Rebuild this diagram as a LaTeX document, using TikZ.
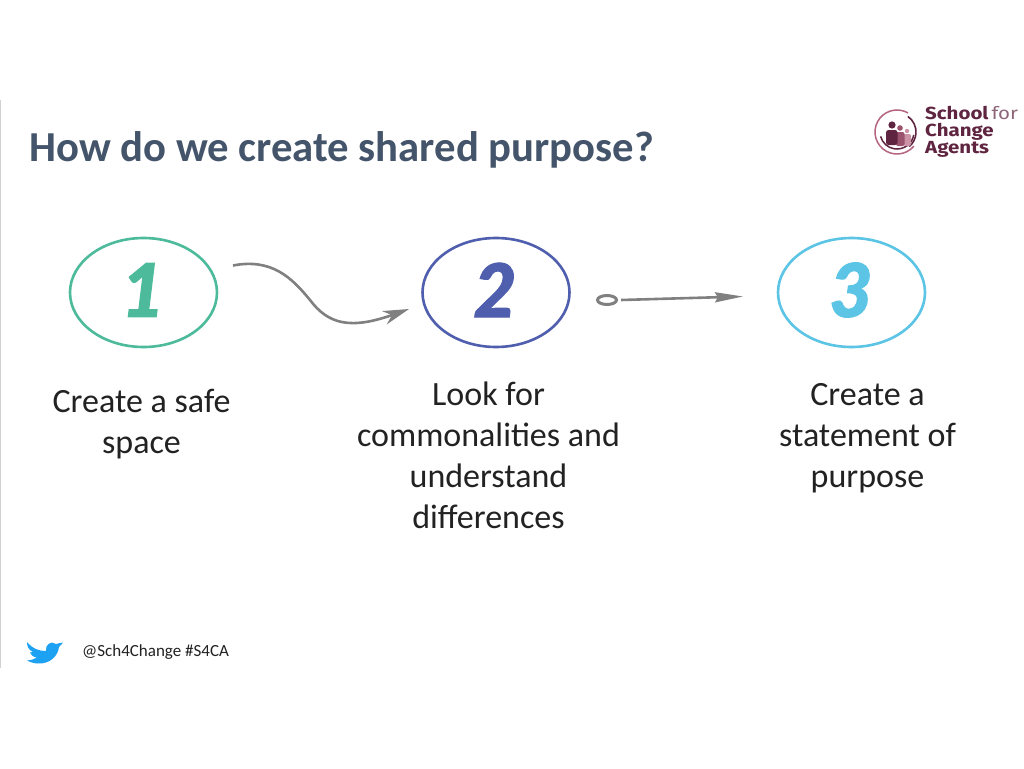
\documentclass[tikz,border=0pt]{standalone}
\usepackage{fontspec}
\setmainfont{Carlito}
\newfontfamily\numfont[FakeBold=1.5]{Lato Black Italic}
\newfontfamily\logofont[FakeStretch=1.17]{Fira Sans}
\usetikzlibrary{arrows.meta,shapes.geometric}
\normallineskiplimit=-100pt
\lineskiplimit=-100pt
\definecolor{titlecol}{HTML}{44546A}
\definecolor{bodycol}{HTML}{222222}
\definecolor{tealc}{HTML}{4DBB9B}
\definecolor{bluec}{HTML}{4F5FAE}
\definecolor{cyanc}{HTML}{5CC4E4}
\definecolor{arrowc}{HTML}{808080}
\definecolor{maroon1}{HTML}{5E2440}
\definecolor{maroon2}{HTML}{B5657F}
\definecolor{birdc}{HTML}{1DA1F2}
\tikzset{
 x=1pt,y=-1pt,
 ring/.style={ellipse,draw=#1,line width=2.6pt,minimum width=147pt,minimum height=109pt,inner sep=0pt},
 numeral/.style={text=#1,font=\numfont\fontsize{74}{74}\selectfont,inner sep=0pt},
 bodytext/.style={align=center,text=bodycol,font=\fontsize{34}{41}\selectfont,inner sep=0pt},
 conn/.style={draw=arrowc,line width=2.6pt,-{Stealth[length=26pt,width=14pt,inset=8pt]}},
 connb/.style={draw=arrowc,line width=2.6pt,-{Stealth[length=28pt,width=10pt,inset=3pt]}},
 logotext/.style={anchor=west,align=left,text=maroon1,inner sep=0pt,font=\logofont\bfseries\fontsize{17.5}{17}\selectfont},
}
\begin{document}
\begin{tikzpicture}
\useasboundingbox (0,0) rectangle (1024,768);
\fill[white] (0,0) rectangle (1024,768);
\fill[black!18] (0,100) rectangle (1.2,668);
\node[anchor=west,inner sep=0pt,text=titlecol,font=\bfseries\fontsize{42.7}{43}\selectfont] (title) at (29,150) {How do we create shared purpose?};

\node[ring=tealc] (c1) at (143.5,292.5) {};
\node[ring=bluec] (c2) at (496,292.5) {};
\node[ring=cyanc] (c3) at (851.5,292.5) {};
\node[numeral=tealc] (n1) at (143,290) {1};
\node[numeral=bluec] (n2) at (495,290) {2};
\node[numeral=cyanc] (n3) at (851,290) {3};

\coordinate (a1) at (233,265.5);
\coordinate (a2) at (409,309);
\draw[conn] (a1) .. controls (272,258) and (292,278) .. (310,300)
   .. controls (328,324) and (350,330) .. (a2);
\node[ellipse,draw=arrowc,line width=3pt,minimum width=19pt,minimum height=9pt,inner sep=0pt] (o) at (607,300) {};
\coordinate (a3) at (743,296.5);
\draw[connb] (o.east)++(3,0) coordinate (a4) (a4) -- (a3);

\node[bodytext] (t1) at (141.5,424) {Create a safe\\space};
\node[bodytext] (t2) at (488.5,455) {Look for\\commonalities and\\understand\\differences};
\node[bodytext] (t3) at (867.5,438) {Create a\\statement of\\purpose};

% logo
\coordinate (lc) at (897,132);
\draw[maroon2,line width=1.5pt] (lc) ++(40:22) arc[start angle=40,end angle=300,radius=22];
\draw[maroon1,line width=1.6pt] (lc) ++(-55:19) arc[start angle=-55,end angle=50,radius=19];
\draw[maroon1,line width=1.5pt] (lc) ++(10:17) arc[start angle=10,end angle=165,radius=17];
\fill[maroon2!70] (907,131) circle[radius=2.2];
\fill[maroon2!70,rounded corners=2pt] (903.5,134) rectangle (911,146);
\fill[maroon2!70!maroon1] (900,128) circle[radius=2.8];
\fill[maroon2!70!maroon1,rounded corners=2pt] (896,132) rectangle (904.5,146);
\fill[maroon1] (892,125) circle[radius=3.6];
\fill[maroon1,rounded corners=2.5pt] (886,130) rectangle (897.5,145);
\node[logotext] (logo) at (925,132) {School\hspace{3pt}\textcolor{maroon1!70}{\mdseries for}\\Change\\Agents};

% twitter bird
\fill[birdc] (27,642) .. controls (33,649) and (39,651) .. (46,651)
  .. controls (45,645) and (51,640) .. (56,644)
  .. controls (58,643.5) and (60,643) .. (63,642.5)
  .. controls (62,644) and (60,646) .. (59,647)
  .. controls (58,656) and (50,664) .. (38,663.5)
  .. controls (34,663.5) and (30,662) .. (27,660.5)
  .. controls (31,660) and (34,659.5) .. (37,657.5)
  .. controls (33,657) and (31,655) .. (30,652.5)
  .. controls (31,652.5) and (32,652.5) .. (33,652)
  .. controls (29,650) and (27,647) .. (27,642) -- cycle;
\node[anchor=west,inner sep=0pt,text=bodycol,font=\fontsize{17}{20}\selectfont] (handle) at (82,652) {@Sch4Change \#S4CA};
\end{tikzpicture}
\end{document}
